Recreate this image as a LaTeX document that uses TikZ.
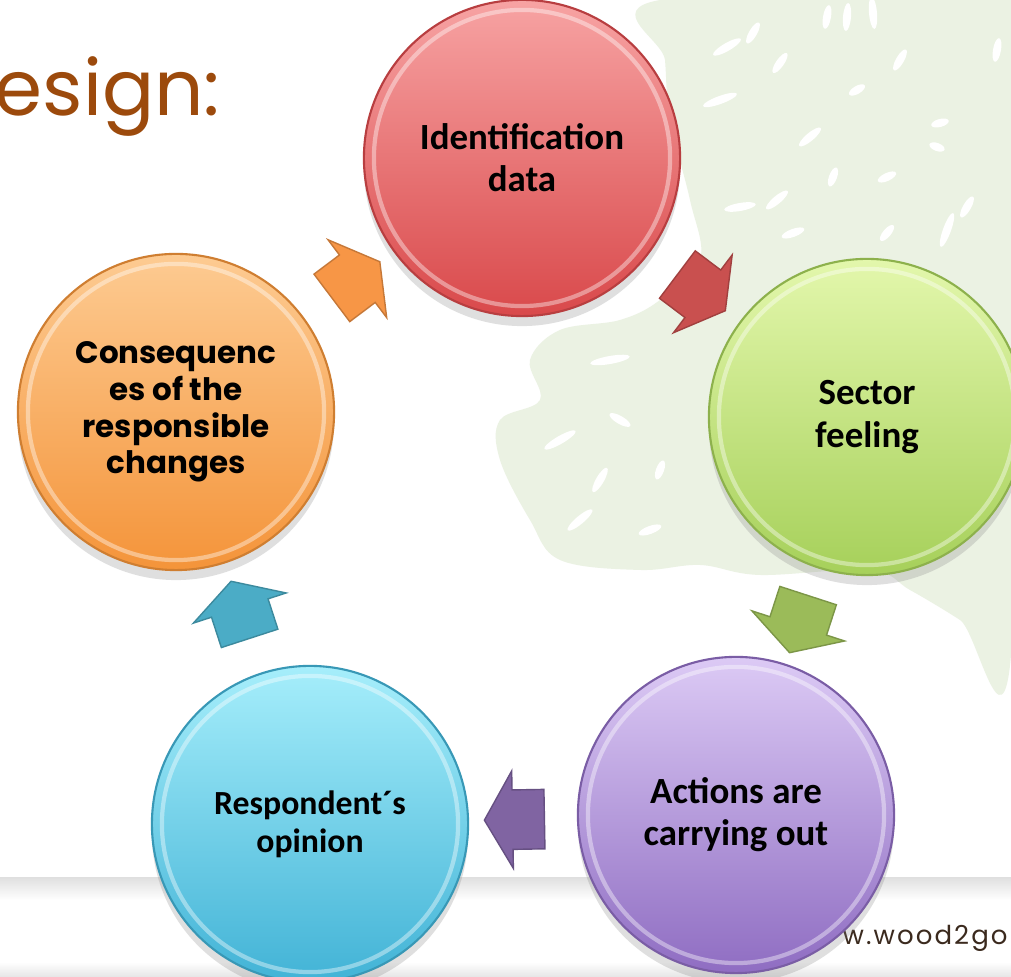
\documentclass[tikz,border=0pt]{standalone}
\usepackage{fontspec}
\usetikzlibrary{positioning,calc,shapes.arrows,shadows}
\newfontfamily\calfont{Carlito}
\newfontfamily\gothfont{Poppins}
\definecolor{titlebrown}{HTML}{9C4A0C}
\definecolor{urlbrown}{HTML}{3B2A1E}
\definecolor{leafgreen}{HTML}{EBF2E3}
\definecolor{redA}{HTML}{F7A3A3}\definecolor{redB}{HTML}{D9494B}\definecolor{redE}{HTML}{C9504F}
\definecolor{grnA}{HTML}{E3F7AC}\definecolor{grnB}{HTML}{A6D05A}\definecolor{grnE}{HTML}{9BBB59}
\definecolor{vioA}{HTML}{DCCAF5}\definecolor{vioB}{HTML}{8F6DC2}\definecolor{vioE}{HTML}{8064A2}
\definecolor{cyaA}{HTML}{A6EEFB}\definecolor{cyaB}{HTML}{42B3D6}\definecolor{cyaE}{HTML}{4BACC6}
\definecolor{orgA}{HTML}{FDCB92}\definecolor{orgB}{HTML}{F4943A}\definecolor{orgE}{HTML}{F79646}
\tikzset{
  bubble/.style 2 args={circle, minimum size=3.16cm, inner sep=0pt, align=center,
    top color=#1, bottom color=#2, draw=#2!85!black, line width=0.6pt,
    font=\calfont\bfseries\fontsize{10.5}{12}\selectfont,
    drop shadow={shadow xshift=0pt, shadow yshift=-1mm, opacity=0.25},
    path picture={\draw[white, opacity=0.4, line width=1.2pt]
      (path picture bounding box.center) circle (1.48cm);}},
  turn/.style={single arrow, minimum height=0.6cm, inner xsep=0pt, inner ysep=0.29cm,
    single arrow head extend=0.19cm, single arrow tip angle=120,
    fill=#1, draw=#1!80!black, line width=0.4pt}
}
\begin{document}
\begin{tikzpicture}[x=0.01cm, y=-0.01cm]
\useasboundingbox (0,0) rectangle (1011,977);
\clip (0,0) rectangle (1011,977);
\fill[white] (0,0) rectangle (1011,977);
% tree in the background
\fill[leafgreen] plot[smooth cycle, tension=0.6] coordinates {
  (660,0) (1011,0) (1011,655) (960,620) (910,590) (870,570) (760,575)
  (700,565) (640,570) (560,560) (530,520) (500,460) (500,420) (540,400)
  (530,360) (560,330) (620,320) (660,300) (700,260) (690,200) (670,120) (665,60)};
\foreach \x/\y/\r/\a in {827/17/80/12, 847/17/85/14, 873/13/95/16, 900/60/60/12,
  857/90/30/9, 780/63/55/12, 997/50/80/12, 940/123/15/9, 937/147/-20/8,
  887/177/25/10, 967/207/60/12, 947/230/70/18, 833/177/70/10, 810/137/40/14,
  753/33/60/12, 727/47/30/16, 720/100/20/18, 777/200/40/14, 740/207/10/16,
  887/233/50/10, 793/233/20/12, 560/440/30/18, 600/480/60/14, 620/420/-30/12,
  580/520/40/16, 650/530/20/12, 610/360/10/20, 660/470/70/10}
  \fill[white, rotate around={\r:(\x,\y)}] (\x,\y) ellipse [x radius=\a, y radius=4];
% page footer bands
\fill[top color=black!12, bottom color=white] (0,878) rectangle (1011,900);
\fill[top color=white, bottom color=black!10] (0,962) rectangle (1011,977);
\node[anchor=base west, inner sep=0pt, text=urlbrown,
  font=\gothfont\addfontfeature{LetterSpace=8}\fontsize{7.4}{9}\selectfont] (url) at (842,945) {w.wood2go};
% title
\node[anchor=base west, inner sep=0pt, text=titlebrown,
  font=\gothfont\fontsize{22}{26}\selectfont] (ttl) at (-6,116) {esign:};
% the five steps
\node[bubble={redA}{redB}] (ident) at (522,158) {Identification\\data};
\node[bubble={grnA}{grnB}] (sector) at (867,417) {Sector\\feeling};
\node[bubble={vioA}{vioB}] (actions) at (736,815) {Actions are\\carrying out};
\node[bubble={cyaA}{cyaB}, font=\calfont\bfseries\fontsize{9.6}{10.8}\selectfont] (resp) at (310,824) {Respondent´s\\opinion};
\node[bubble={orgA}{orgB}, font=\gothfont\bfseries\fontsize{8.8}{10.4}\selectfont] (conseq) at (176,412) {Consequenc\\es of the\\responsible\\changes};
% arrows between steps
\node[turn=redE, rotate=-37] (a1) at ($(ident)!0.5!(sector)$) {};
\node[turn=grnE, rotate=-108] (a2) at ($(sector)!0.5!(actions)$) {};
\node[turn=vioE, rotate=181] (a3) at ($(actions)!0.5!(resp)$) {};
\node[turn=cyaE, rotate=108] (a4) at ($(resp)!0.5!(conseq)$) {};
\node[turn=orgE, rotate=37] (a5) at ($(conseq)!0.5!(ident)$) {};
\end{tikzpicture}
\end{document}
